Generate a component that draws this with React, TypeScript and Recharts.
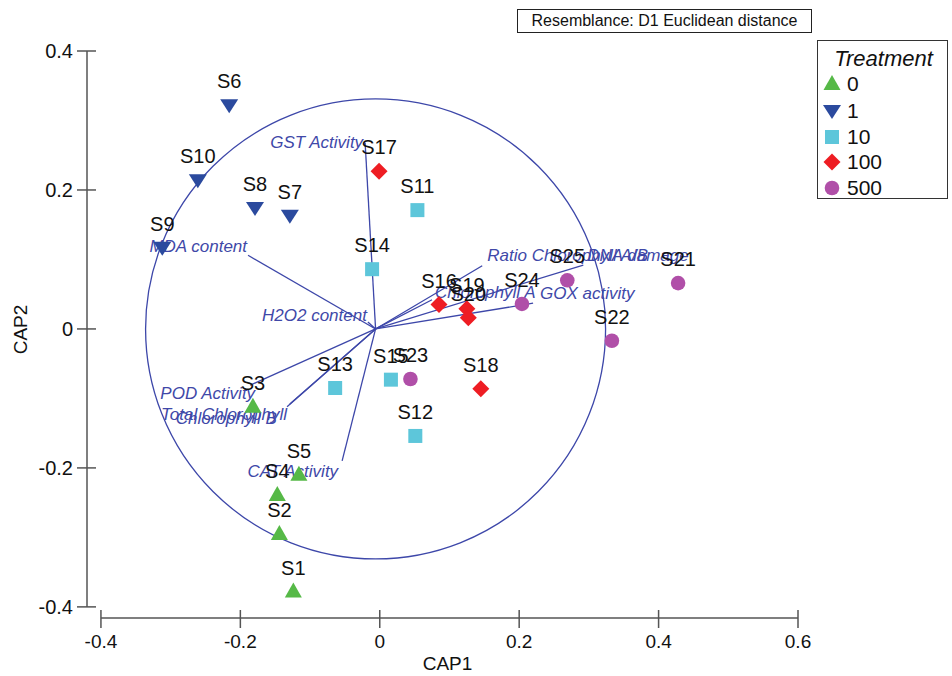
import React from 'react';
import { ScatterChart, Scatter, XAxis, YAxis, ReferenceLine, ReferenceDot, Legend } from 'recharts';

const FONT = '"Liberation Sans", Arial, Helvetica, sans-serif';
const AXIS_COLOR = '#555555';
const VECTOR_COLOR = '#3D47A9';
const VECTOR_TEXT = '#4048A8';

// ---- axes ----
const X_TICKS = [-0.4, -0.2, 0, 0.2, 0.4, 0.6];
const Y_TICKS = [-0.4, -0.2, 0, 0.2, 0.4];
const X_DOMAIN: [number, number] = [-0.42, 0.6];
const Y_DOMAIN: [number, number] = [-0.416, 0.4];

// ---- treatments ----
const treatmentLabels = ['0', '1', '10', '100', '500'];

const t0Names = ['S1', 'S2', 'S3', 'S4', 'S5'];
const t0Cap1 = [-0.124, -0.144, -0.182, -0.147, -0.116];
const t0Cap2 = [-0.378, -0.295, -0.112, -0.239, -0.21];

const t1Names = ['S6', 'S7', 'S8', 'S9', 'S10'];
const t1Cap1 = [-0.216, -0.129, -0.179, -0.312, -0.261];
const t1Cap2 = [0.322, 0.163, 0.174, 0.117, 0.214];

const t10Names = ['S11', 'S12', 'S13', 'S14', 'S15'];
const t10Cap1 = [0.054, 0.051, -0.064, -0.011, 0.016];
const t10Cap2 = [0.171, -0.154, -0.085, 0.086, -0.073];

const t100Names = ['S16', 'S17', 'S18', 'S19', 'S20'];
const t100Cap1 = [0.085, -0.001, 0.145, 0.125, 0.127];
const t100Cap2 = [0.035, 0.227, -0.086, 0.029, 0.016];

const t500Names = ['S21', 'S22', 'S23', 'S24', 'S25'];
const t500Cap1 = [0.428, 0.333, 0.044, 0.204, 0.269];
const t500Cap2 = [0.066, -0.017, -0.072, 0.036, 0.07];

// ---- vectors (correlation overlay) ----
const vectorNames = [
  'GST Activity', 'MDA content', 'H2O2 content', 'POD Activity', 'Total Chlorophyll',
  'Chlorophyll B', 'CAT Activity', 'Ratio Chlorophyll A/B', 'DNA damage', 'Chlorophyll A', 'GOX activity',
];
const vectorCap1 = [-0.021, -0.189, -0.017, -0.186, -0.133, -0.129, -0.054, 0.147, 0.292, 0.075, 0.22];
const vectorCap2 = [0.268, 0.106, 0.01, -0.081, -0.112, -0.108, -0.19, 0.091, 0.092, 0.042, 0.037];
const VECTOR_ORIGIN = { x: -0.006, y: 0 };

// ---- styles (label offsets in px) ----
const vectorLabelStyle: Record<string, { dx: number; dy: number; anchor: 'start' | 'end' }> = {
  'GST Activity': { dx: -2, dy: 0, anchor: 'end' },
  'MDA content': { dx: -1, dy: -9, anchor: 'end' },
  'H2O2 content': { dx: -1, dy: -6, anchor: 'end' },
  'POD Activity': { dx: 5, dy: 8, anchor: 'end' },
  'Total Chlorophyll': { dx: 0, dy: 8, anchor: 'end' },
  'Chlorophyll B': { dx: -13, dy: 15, anchor: 'end' },
  'CAT Activity': { dx: -4, dy: 11, anchor: 'end' },
  'Ratio Chlorophyll A/B': { dx: 5, dy: -10, anchor: 'start' },
  'DNA damage': { dx: 4, dy: -10, anchor: 'start' },
  'Chlorophyll A': { dx: 3, dy: -7, anchor: 'start' },
  'GOX activity': { dx: 7, dy: -10, anchor: 'start' },
};

type Kind = 'up' | 'down' | 'square' | 'diamond' | 'circle';
const treatmentStyle: { kind: Kind; color: string }[] = [
  { kind: 'up', color: '#56B947' },
  { kind: 'down', color: '#2B4A9E' },
  { kind: 'square', color: '#5DC6DA' },
  { kind: 'diamond', color: '#EE1D23' },
  { kind: 'circle', color: '#B04FA8' },
];

const build = (names: string[], xs: number[], ys: number[]) =>
  names.map((name, i) => ({ name, x: xs[i], y: ys[i] }));

const groups = [
  build(t0Names, t0Cap1, t0Cap2),
  build(t1Names, t1Cap1, t1Cap2),
  build(t10Names, t10Cap1, t10Cap2),
  build(t100Names, t100Cap1, t100Cap2),
  build(t500Names, t500Cap1, t500Cap2),
];
const vectors = build(vectorNames, vectorCap1, vectorCap2);

function Marker({ kind, cx, cy, color }: { kind: Kind; cx: number; cy: number; color: string }) {
  switch (kind) {
    case 'up':
      return <polygon points={`${cx},${cy - 9} ${cx + 8.5},${cy + 6} ${cx - 8.5},${cy + 6}`} fill={color} />;
    case 'down':
      return <polygon points={`${cx - 9},${cy - 6} ${cx + 9},${cy - 6} ${cx},${cy + 8}`} fill={color} />;
    case 'square':
      return <rect x={cx - 7} y={cy - 7} width={14} height={14} fill={color} />;
    case 'diamond':
      return <polygon points={`${cx},${cy - 8.5} ${cx + 8.5},${cy} ${cx},${cy + 8.5} ${cx - 8.5},${cy}`} fill={color} />;
    default:
      return <circle cx={cx} cy={cy} r={7.3} fill={color} />;
  }
}

const sampleShape = (kind: Kind, color: string) => (props: any) => {
  const { cx, cy, payload } = props;
  return (
    <g>
      <Marker kind={kind} cx={cx} cy={cy} color={color} />
      <text x={cx} y={cy - 24} textAnchor="middle" dominantBaseline="central" fontSize={20} fontFamily={FONT} fill="#111">
        {payload.name}
      </text>
    </g>
  );
};

const vectorLabelShape = (props: any) => {
  const { cx, cy, payload } = props;
  const s = vectorLabelStyle[payload.name];
  return (
    <text x={cx + s.dx} y={cy + s.dy} textAnchor={s.anchor} dominantBaseline="central" fontSize={17}
      fontStyle="italic" fontFamily={FONT} fill={VECTOR_TEXT}>
      {payload.name}
    </text>
  );
};

const fmt = (v: number) => String(v);

const YTick = (props: any) => {
  const { x, y, payload } = props;
  return (
    <g>
      <line x1={x - 10} x2={x + 9} y1={y} y2={y} stroke={AXIS_COLOR} strokeWidth={1.5} />
      <text x={x - 14} y={y} textAnchor="end" dominantBaseline="central" fontSize={20} fontFamily={FONT} fill="#111">
        {fmt(payload.value)}
      </text>
    </g>
  );
};

const XTick = (props: any) => {
  const { x, y, payload } = props;
  return (
    <g>
      <line x1={x} x2={x} y1={y - 8} y2={y + 10} stroke={AXIS_COLOR} strokeWidth={1.5} />
      <text x={x} y={y + 23} textAnchor="middle" dominantBaseline="central" fontSize={19} fontFamily={FONT} fill="#111">
        {fmt(payload.value)}
      </text>
    </g>
  );
};

const XTitle = (props: any) => {
  const vb = props.viewBox || { x: 87, y: 618, width: 711, height: 58 };
  return (
    <text x={vb.x + vb.width / 2 + 5} y={vb.y + 45} textAnchor="middle" dominantBaseline="central" fontSize={19} fontFamily={FONT} fill="#111">
      CAP1
    </text>
  );
};

const YTitle = (props: any) => {
  const vb = props.viewBox || { x: 0, y: 51, width: 87, height: 567 };
  const cy = vb.y + vb.height / 2 - 5;
  return (
    <text x={20} y={cy} transform={`rotate(-90, 20, ${cy})`} textAnchor="middle" dominantBaseline="central" fontSize={19} fontFamily={FONT} fill="#111">
      CAP2
    </text>
  );
};

function LegendMarker({ kind, color }: { kind: Kind; color: string }) {
  return (
    <svg width={22} height={22} style={{ position: 'absolute', left: 3, top: -11 }}>
      <Marker kind={kind} cx={11} cy={11} color={color} />
    </svg>
  );
}

const LegendBox = () => (
  <div style={{ position: 'relative', width: 131, height: 159, border: '1.5px solid #333', background: '#fff', fontFamily: FONT, boxSizing: 'border-box' }}>
    <div style={{ position: 'absolute', left: 0, width: 131, top: 5, textAlign: 'center', fontStyle: 'italic', fontSize: 22, lineHeight: '26px', color: '#111' }}>
      Treatment
    </div>
    {treatmentLabels.map((t, i) => {
      const top = [43, 70, 96, 121, 147][i];
      return (
        <div key={t} style={{ position: 'absolute', left: 0, top }}>
          <LegendMarker kind={treatmentStyle[i].kind} color={treatmentStyle[i].color} />
          <span style={{ position: 'absolute', left: 29, top: -12, fontSize: 21, lineHeight: '24px', color: '#111' }}>{t}</span>
        </div>
      );
    })}
  </div>
);

export default function App() {
  return (
    <div style={{ position: 'absolute', left: 0, top: 0, width: 952, height: 676, background: '#fff' }}>
      <ScatterChart width={952} height={676} margin={{ top: 51, right: 154, bottom: 0, left: 0 }}>
        <XAxis type="number" dataKey="x" domain={X_DOMAIN} ticks={X_TICKS} allowDataOverflow axisLine={false}
          tickLine={false} tickSize={0} tickMargin={0} height={58} interval={0}
          tick={(p: any) => <XTick {...p} />} label={<XTitle />} />
        <YAxis type="number" dataKey="y" domain={Y_DOMAIN} ticks={Y_TICKS} allowDataOverflow axisLine={false}
          tickLine={false} tickSize={0} tickMargin={0} width={87} interval={0}
          tick={(p: any) => <YTick {...p} />} label={<YTitle />} />
        <ReferenceLine ifOverflow="visible" stroke={AXIS_COLOR} strokeWidth={1.5}
          segment={[{ x: X_DOMAIN[0], y: Y_TICKS[0] }, { x: X_DOMAIN[0], y: Y_TICKS[Y_TICKS.length - 1] }]} />
        <ReferenceLine ifOverflow="visible" stroke={AXIS_COLOR} strokeWidth={1.5}
          segment={[{ x: X_TICKS[0], y: Y_DOMAIN[0] }, { x: X_TICKS[X_TICKS.length - 1], y: Y_DOMAIN[0] }]} />
        <ReferenceDot x={VECTOR_ORIGIN.x} y={VECTOR_ORIGIN.y} r={230} fill="none" stroke={VECTOR_COLOR} strokeWidth={1.3} ifOverflow="visible" />
        {vectors.map((v) => (
          <ReferenceLine key={v.name} ifOverflow="visible" stroke={VECTOR_COLOR} strokeWidth={1.3}
            segment={[{ x: VECTOR_ORIGIN.x, y: VECTOR_ORIGIN.y }, { x: v.x, y: v.y }]} />
        ))}
        <Scatter data={vectors} isAnimationActive={false} shape={vectorLabelShape} legendType="none" />
        {groups.map((g, i) => (
          <Scatter key={treatmentLabels[i]} name={treatmentLabels[i]} data={g} isAnimationActive={false}
            shape={sampleShape(treatmentStyle[i].kind, treatmentStyle[i].color)} />
        ))}
        <Legend layout="vertical" align="center" verticalAlign="middle" content={() => <LegendBox />}
          wrapperStyle={{ left: 817, top: 40, width: 131, height: 159, margin: 0, padding: 0 }} />
      </ScatterChart>
      <div style={{ position: 'absolute', left: 517, top: 9, width: 295, height: 24, border: '1px solid #222', boxSizing: 'border-box',
        fontFamily: FONT, fontSize: 16, lineHeight: '22px', textAlign: 'center', color: '#111', background: '#fff' }}>
        Resemblance: D1 Euclidean distance
      </div>
    </div>
  );
}
